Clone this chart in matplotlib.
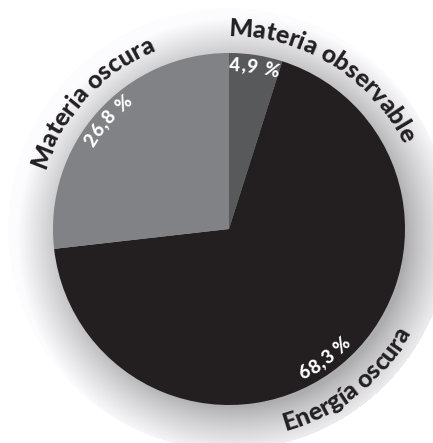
import numpy as np
import matplotlib
matplotlib.use('Agg')
import matplotlib.pyplot as plt
from matplotlib.font_manager import FontProperties, findfont, get_font

# data
names = ['Materia observable', 'Energía oscura', 'Materia oscura']
shares = [4.9, 68.3, 26.8]
colors = ['#58595b', '#231f20', '#808285']

W, H, DPI = 433, 443, 100
CX, CY = 229, H - 229   # pie centre, y pointing up
R = 176                 # pie radius in px
HALO = 221              # outer edge of the grey halo

FP = FontProperties(family=['Lato', 'DejaVu Sans'], weight='black')
print(findfont(FP))


def arc_text(ax, s, theta_c, r, size, color, outward=True, track=0.0):
    # draw s letter by letter along a circle, centred on angle theta_c
    font = get_font(findfont(FP))
    font.set_size(size, DPI)
    advs = [font.load_char(ord(c)).linearHoriAdvance / 65536 + track for c in s]
    span = np.degrees((sum(advs) - track) / r)
    sign = -1 if outward else 1   # outward text reads clockwise
    phi = theta_c - sign * span / 2
    for c, a in zip(s, advs):
        mid = phi + sign * np.degrees((a - track) / 2 / r)
        x = CX + r * np.cos(np.radians(mid))
        y = CY + r * np.sin(np.radians(mid))
        rot = mid - 90 if outward else mid + 90
        ax.text(x, y, c, rotation=rot, rotation_mode='anchor', ha='center',
                va='baseline', fontsize=size, fontproperties=FP, color=color,
                zorder=5)
        phi += sign * np.degrees(a / r)


fig = plt.figure(figsize=(W / DPI, H / DPI), dpi=DPI)
ax = fig.add_axes([0, 0, 1, 1])

# grey halo round the pie, a bit darker towards bottom right
yy, xx = np.mgrid[0:H, 0:W] + 0.5
d_out = np.hypot(xx - CX, yy - (H - CY))
d_sh = np.hypot(xx - CX - 9, yy - (H - CY) - 9)
t = np.clip((d_sh - 168) / (HALO - 168), 0, 1)
v = 0.68 + 0.31 * t ** 0.85
v[d_out > HALO] = 1.0
img = np.dstack([v, v, v * 1.01]).clip(0, 1)
ax.imshow(img, extent=(0, W, 0, H), origin='upper', zorder=0,
          interpolation='bilinear')

wedges, _ = ax.pie(shares, colors=colors, startangle=90, counterclock=False,
                   center=(CX, CY), radius=R, wedgeprops=dict(linewidth=0))
for w in wedges:
    w.set_zorder(2)

# label angles follow the wedge middles
mids = [(w.theta1 + w.theta2) / 2 for w in wedges]

for i, (name, val) in enumerate(zip(names, shares)):
    pct = f'{val:.1f}'.replace('.', ',') + ' %'
    ang = mids[i]
    if i == 1:
        # bottom labels read counter clockwise, tops to the centre
        arc_text(ax, name, ang - 1.5, 210, 18, '#231f20', outward=False)
        arc_text(ax, pct, ang - 3, 168, 13.5, 'white', outward=False, track=0.8)
    else:
        shift = -23 if i == 0 else -1
        arc_text(ax, name, ang + shift, 193, 18, '#231f20', outward=True)
        arc_text(ax, pct, ang, 158, 13.5, 'white', outward=True, track=0.8)

ax.set_xlim(0, W)
ax.set_ylim(0, H)
ax.set_aspect('auto')
ax.axis('off')

fig.savefig('out.png', dpi=DPI, facecolor='white')
